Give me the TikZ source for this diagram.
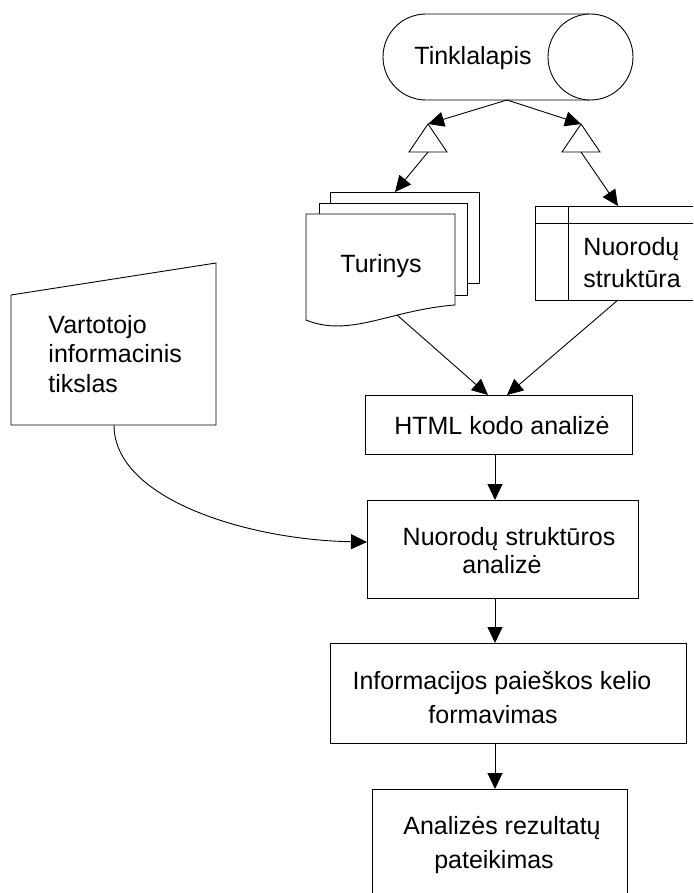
\documentclass[tikz,border=0pt]{standalone}
\usepackage{fontspec}
\setmainfont{Liberation Sans}
\usetikzlibrary{arrows.meta}

\begin{document}
\begin{tikzpicture}[x=1pt,y=-1pt,
  line width=0.9pt,
  lbl/.style={font=\fontsize{25}{30}\selectfont, inner sep=0pt, anchor=base},
  lblw/.style={lbl, anchor=base west},
  box/.style={draw, fill=white, inner sep=0pt, outer sep=0pt},
  arr/.style={-{Triangle[length=16pt,width=15pt]}},
]
\useasboundingbox (0,0) rectangle (693,893);
\clip (0,0) rectangle (693,893);
\fill[white] (0,0) rectangle (693,893);

% --- web page store (horizontal cylinder)
\draw[fill=white] (590,14) -- (426,14) arc[start angle=-90, end angle=-270, radius=43] -- (590,100);
\draw[fill=white] (590.5,57) ellipse [x radius=42.5, y radius=43];
\node[lbl] (webtxt) at (473,65) {Tinklalapis};
\coordinate (web) at (507,100);

% --- hollow triangles
\draw[fill=white] (428,124) -- (447,152) -- (409,152) -- cycle;
\coordinate (triL-top) at (428,124);
\coordinate (triL-bot) at (428,152);
\draw[fill=white] (581,124) -- (600,152) -- (562,152) -- cycle;
\coordinate (triR-top) at (581,124);
\coordinate (triR-bot) at (581,152);

% --- multi-document "Turinys"
\draw[fill=white] (330,192) rectangle (479,283);
\draw[fill=white] (319,203) rectangle (467,295);
\draw[fill=white] (306,214) -- (455,214) -- (455,305)
   .. controls (390,310) and (350,338) .. (306,320) -- cycle;
\node[lbl] (turtxt) at (381,272) {Turinys};
\coordinate (tur-top) at (395,192);
\coordinate (tur-bot) at (397,315);

% --- internal storage "Nuorodų struktūra"
\draw[fill=white] (535,206) rectangle (720,300);
\draw (535,223) -- (720,223);
\draw (568,206) -- (568,300);
\node[lblw] (tab1) at (583,255) {Nuorodų};
\node[lblw] (tab2) at (583,287) {struktūra};
\coordinate (tab-top) at (618,206);
\coordinate (tab-bot) at (618,300);

% --- manual input "Vartotojo informacinis tikslas"
\draw[fill=white] (11,295) -- (216,263) -- (216,425) -- (11,425) -- cycle;
\node[lblw] (usr1) at (48,333) {Vartotojo};
\node[lblw] (usr2) at (48,362) {informacinis};
\node[lblw] (usr3) at (48,392) {tikslas};
\coordinate (usr-bot) at (114,425);

% --- process boxes
\node[box, minimum width=267pt, minimum height=59pt] (html) at (498.5,424.5) {};
\node[lbl] at (502,434) {HTML kodo analizė};

\node[box, minimum width=271pt, minimum height=98pt] (nsa) at (502.5,549) {};
\node[lbl] at (509,545) {Nuorodų struktūros};
\node[lbl] at (502,573) {analizė};

\node[box, minimum width=356pt, minimum height=100pt] (ipk) at (508,693) {};
\node[lbl] at (502,689) {Informacijos paieškos kelio};
\node[lbl] at (493,723) {formavimas};

\node[box, minimum width=255pt, minimum height=141pt] (arp) at (499.5,859.5) {};
\node[lbl] at (502,834) {Analizės rezultatų};
\node[lbl] at (494,868) {pateikimas};

% --- connector end points on the boxes
\coordinate (spine) at (495,0);
\coordinate (html-inL) at (488,395);
\coordinate (html-inR) at (507,395);
\coordinate (nsa-in) at (367,542);

% --- connectors
\draw[arr] (web) -- (triL-top);
\draw[arr] (web) -- (triR-top);
\draw[arr] (triL-bot) -- (tur-top);
\draw[arr] (triR-bot) -- (tab-top);
\draw[arr] (tur-bot) -- (html-inL);
\draw[arr] (tab-bot) -- (html-inR);
\draw[arr] (html.south -| spine) -- (nsa.north -| spine);
\draw[arr] (nsa.south -| spine) -- (ipk.north -| spine);
\draw[arr] (ipk.south -| spine) -- (arp.north -| spine);
\draw[arr] (usr-bot) .. controls (114,500) and (250,540) .. (nsa-in);
\end{tikzpicture}
\end{document}
